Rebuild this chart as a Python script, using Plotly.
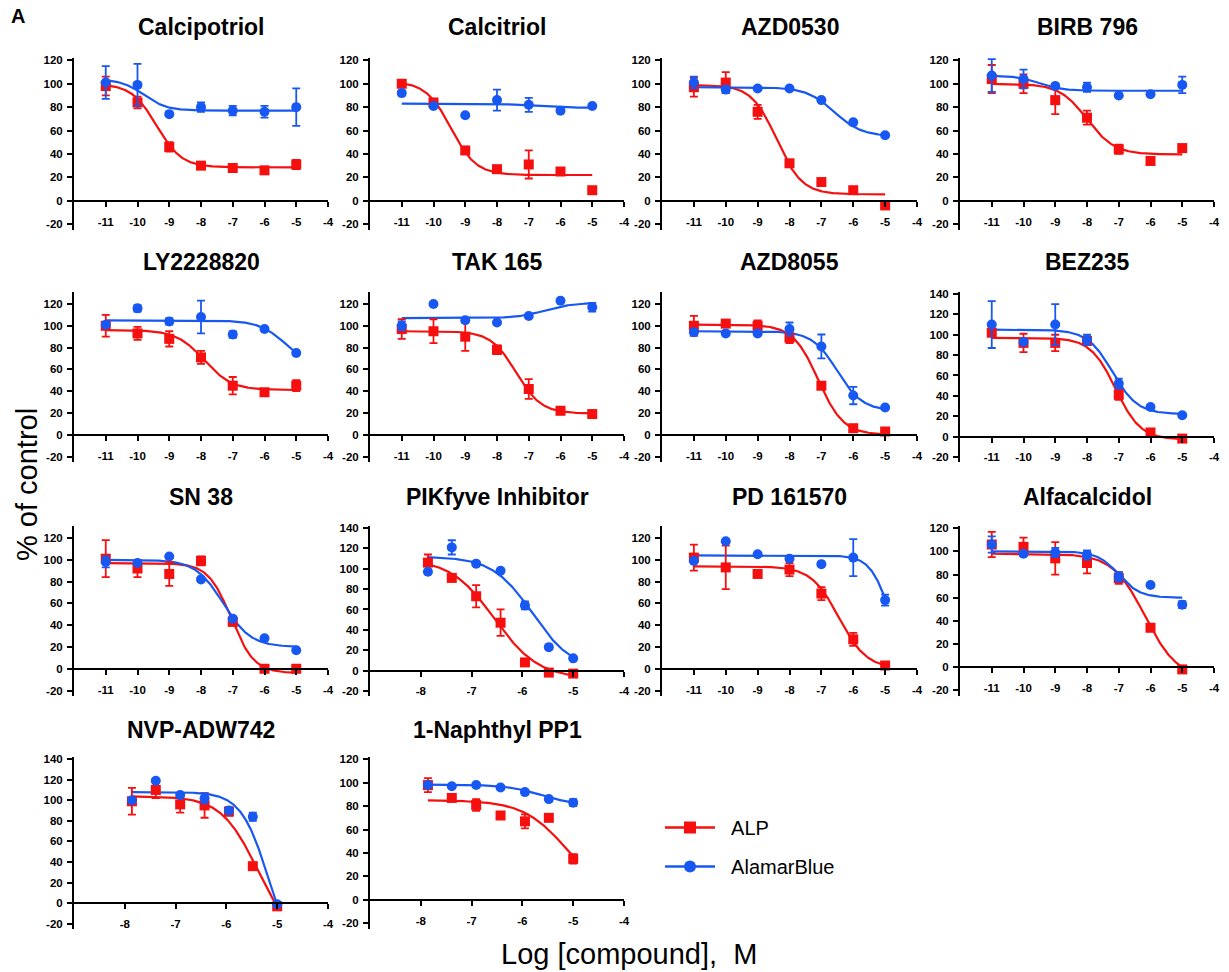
import numpy as np
import plotly.graph_objects as go

# ---------------- data ----------------
titles = ["Calcipotriol", "Calcitriol", "AZD0530", "BIRB 796",
          "LY2228820", "TAK 165", "AZD8055", "BEZ235",
          "SN 38", "PIKfyve Inhibitor", "PD 161570", "Alfacalcidol",
          "NVP-ADW742", "1-Naphthyl PP1"]

log_conc_wide = [-11, -10, -9, -8, -7, -6, -5]
log_conc_narrow = [-7.86, -7.39, -6.91, -6.43, -5.95, -5.48, -5.0]
narrow_panels = ["PIKfyve Inhibitor", "NVP-ADW742", "1-Naphthyl PP1"]

# ALP (% of control) and error
alp_mean = [
    [98, 84, 46, 30, 28, 26, 31],      # Calcipotriol
    [100, 84, 43, 27, 31, 25, 9],      # Calcitriol
    [97, 101, 76, 32, 16, 9, -4],      # AZD0530
    [104, 100, 86, 71, 44, 34, 45],    # BIRB 796
    [100, 93, 88, 71, 45, 39, 45],     # LY2228820
    [97, 95, 90, 78, 42, 22, 19],      # TAK 165
    [100, 102, 100, 89, 45, 6, 3],     # AZD8055
    [102, 92, 92, 94, 41, 4, -2],      # BEZ235
    [101, 92, 87, 99, 43, 0, 0],       # SN 38
    [106, 91, 73, 47, 8, -2, -3],      # PIKfyve Inhibitor
    [102, 93, 87, 91, 69, 27, 3],      # PD 161570
    [106, 104, 94, 90, 77, 34, -2],    # Alfacalcidol
    [99, 110, 96, 95, 89, 36, -3],     # NVP-ADW742
    [98, 87, 81, 72, 67, 70, 35],      # 1-Naphthyl PP1
]
alp_err = [
    [8, 5, 4, 2, 1, 2, 4],
    [1, 1, 2, 2, 12, 1, 0],
    [8, 9, 6, 2, 0, 0, 0],
    [12, 8, 12, 6, 4, 0, 3],
    [10, 6, 7, 6, 8, 3, 5],
    [9, 11, 13, 4, 9, 0, 0],
    [9, 3, 5, 5, 3, 0, 0],
    [3, 9, 8, 4, 5, 0, 0],
    [17, 8, 11, 4, 0, 0, 0],
    [8, 2, 11, 13, 0, 0, 0],
    [12, 20, 3, 6, 6, 6, 0],
    [11, 8, 14, 9, 5, 0, 0],
    [13, 8, 8, 12, 4, 0, 0],
    [6, 0, 5, 0, 6, 0, 4],
]

# AlamarBlue (% of control) and error
ab_mean = [
    [101, 99, 74, 80, 77, 76, 80],
    [92, 81, 73, 86, 82, 77, 81],
    [101, 95, 96, 96, 86, 67, 56],
    [107, 104, 98, 97, 90, 91, 99],
    [101, 116, 104, 108, 92, 97, 75],
    [100, 120, 105, 103, 109, 123, 117],
    [94, 93, 93, 97, 81, 36, 25],
    [110, 93, 110, 95, 52, 29, 21],
    [98, 97, 103, 82, 46, 28, 17],
    [97, 121, 105, 98, 64, 23, 12],
    [99, 117, 105, 101, 96, 102, 63],
    [106, 98, 99, 97, 78, 71, 54],
    [100, 119, 105, 102, 90, 84, -1],
    [98, 97, 98, 96, 92, 86, 83],
]
ab_err = [
    [14, 18, 0, 4, 4, 5, 16],
    [2, 0, 0, 9, 6, 0, 0],
    [5, 3, 0, 0, 0, 0, 0],
    [14, 8, 2, 4, 0, 0, 7],
    [0, 3, 3, 15, 3, 0, 0],
    [4, 0, 0, 0, 0, 0, 4],
    [3, 0, 0, 6, 11, 8, 0],
    [23, 0, 20, 5, 5, 0, 0],
    [5, 0, 0, 0, 0, 0, 0],
    [0, 7, 0, 0, 4, 0, 0],
    [0, 0, 0, 0, 0, 17, 5],
    [7, 0, 4, 4, 4, 0, 3],
    [0, 0, 0, 5, 3, 4, 0],
    [2, 0, 0, 0, 0, 0, 3],
]

# fitted dose-response parameters: (left plateau, right plateau, logEC50, Hill slope)
alp_fit = [
    (100, 28.5, -9.4, 1.1), (102, 22, -9.45, 1.1), (99, 5.5, -8.4, 1.1), (100, 39.5, -8.0, 1.0),
    (96, 41, -7.9, 1.0), (95, 19.5, -7.4, 1.1), (101, 0, -7.1, 1.1), (97, -3, -7.1, 1.1),
    (97, -4, -7.05, 1.2), (110, -8, -6.55, 1.0), (94, 0, -6.45, 1.0), (98, -10, -6.17, 0.85),
    (104, -40, -5.38, 1.2), (85, 0, -5.11, 1.0),
]
ab_fit = [
    (104, 77, -9.8, 1.2), (83, 79.5, -7.0, 1.0), (97, 55, -6.6, 1.0), (107, 94, -9.5, 1.2),
    (105, 60, -5.3, 1.0), (107, 121, -6.5, 1.0), (95, 22, -6.5, 1.1), (105, 22, -7.2, 1.1),
    (100, 20, -7.3, 1.0), (112, 0, -5.8, 1.1), (104, 0, -4.85, 1.4), (100, 60, -7.0, 1.3),
    (108, -60, -5.17, 1.6), (98.5, 80, -5.6, 1.2),
]

y_top = [122, 122, 122, 122, 131, 131, 131, 142, 131, 142, 131, 122, 142, 122]
y_bottom = -25

# ---------------- layout geometry (pixels) ----------------
W, H = 1229, 972
col_px = [(74, 328), (370, 624), (662, 917), (960, 1214)]
row_px = [(58, 230), (292, 462), (526, 696), (757, 929)]
title_y_px = [27, 262, 497, 730]

RED = "#F50F0F"
BLUE = "#1858F2"
FONT = "Liberation Sans, Arial, sans-serif"

fig = go.Figure()
layout = {}
annotations = []

for i, name in enumerate(titles):
    r, c = divmod(i, 4)
    n = i + 1
    xs_name = "x" if n == 1 else f"x{n}"
    ys_name = "y" if n == 1 else f"y{n}"
    narrow = name in narrow_panels
    xs = log_conc_narrow if narrow else log_conc_wide

    for fit, colr in ((alp_fit[i], RED), (ab_fit[i], BLUE)):
        left, right, c50, h = fit
        xx = np.linspace(xs[0], xs[-1], 300)
        yy = right + (left - right) / (1 + 10 ** (h * (xx - c50)))
        fig.add_trace(go.Scatter(x=xx, y=yy, mode="lines", line=dict(color=colr, width=2.2),
                                 xaxis=xs_name, yaxis=ys_name, showlegend=False, hoverinfo="skip"))

    fig.add_trace(go.Scatter(x=xs, y=alp_mean[i], mode="markers",
                             marker=dict(symbol="square", size=10, color=RED),
                             error_y=dict(type="data", array=alp_err[i], color=RED, thickness=1.8, width=4),
                             xaxis=xs_name, yaxis=ys_name, showlegend=False))
    fig.add_trace(go.Scatter(x=xs, y=ab_mean[i], mode="markers",
                             marker=dict(symbol="circle", size=10, color=BLUE),
                             error_y=dict(type="data", array=ab_err[i], color=BLUE, thickness=1.8, width=4),
                             xaxis=xs_name, yaxis=ys_name, showlegend=False))

    x0p, x1p = col_px[c]
    y0p, y1p = row_px[r]
    xdom = [x0p / W, x1p / W]
    ydom = [1 - y1p / H, 1 - y0p / H]
    ytop = y_top[i]
    zero_pos = ydom[0] + (0 - y_bottom) / (ytop - y_bottom) * (ydom[1] - ydom[0])

    xr = [-9, -4] if narrow else [-12, -4]
    xt = list(range(-8, -3)) if narrow else list(range(-11, -3))
    yt = list(range(-20, 141 if ytop >= 140 else 121, 20))

    tickfont = dict(family=FONT, size=11.5, color="black", weight="bold")
    layout["xaxis" if n == 1 else f"xaxis{n}"] = dict(
        domain=xdom, range=xr, tickvals=xt, ticktext=[str(v) for v in xt],
        anchor="free", position=zero_pos, showline=True, linecolor="black", linewidth=2,
        ticks="outside", ticklen=5, tickwidth=2, tickcolor="black", tickfont=tickfont,
        showgrid=False, zeroline=False, ticklabelstandoff=5)
    layout["yaxis" if n == 1 else f"yaxis{n}"] = dict(
        domain=ydom, range=[y_bottom, ytop], tickvals=yt, ticktext=[str(v) for v in yt],
        anchor=xs_name, showline=True, linecolor="black", linewidth=2,
        ticks="outside", ticklen=5, tickwidth=2, tickcolor="black", tickfont=tickfont,
        showgrid=False, zeroline=False, ticklabelstandoff=2)

    annotations.append(dict(text=f"<b>{name}</b>", x=(x0p + x1p) / 2 / W, y=1 - title_y_px[r] / H,
                            xref="paper", yref="paper", showarrow=False, xanchor="center", yanchor="middle",
                            font=dict(family=FONT, size=23, color="black")))

annotations.append(dict(text="<b>A</b>", x=9 / W, y=1 - 16 / H, xref="paper", yref="paper",
                        showarrow=False, xanchor="left", yanchor="middle",
                        font=dict(family=FONT, size=20, color="black")))
annotations.append(dict(text="% of control", x=27 / W, y=1 - 485 / H, xref="paper", yref="paper",
                        showarrow=False, textangle=-90, xanchor="center", yanchor="middle",
                        font=dict(family=FONT, size=29, color="black")))
annotations.append(dict(text="Log [compound],\u00a0 M", x=629 / W, y=1 - 954 / H, xref="paper", yref="paper",
                        showarrow=False, xanchor="center", yanchor="middle",
                        font=dict(family=FONT, size=29, color="black")))

# legend entries
fig.add_trace(go.Scatter(x=[None], y=[None], mode="lines+markers", name="\u00a0\u00a0ALP", legendgroup="alp",
                         line=dict(color=RED, width=2.5), marker=dict(symbol="square", size=12, color=RED)))
fig.add_trace(go.Scatter(x=[None], y=[None], mode="lines+markers", name="\u00a0\u00a0AlamarBlue", legendgroup="ab",
                         line=dict(color=BLUE, width=2.5), marker=dict(symbol="circle", size=12, color=BLUE)))

fig.update_layout(
    width=W, height=H, template="none", paper_bgcolor="white", plot_bgcolor="white",
    margin=dict(l=0, r=0, t=0, b=0), annotations=annotations,
    legend=dict(x=660 / W, y=1 - 808 / H, xanchor="left", yanchor="top", font=dict(family=FONT, size=20, color="black"),
                itemwidth=50, tracegroupgap=10, bgcolor="rgba(0,0,0,0)"),
    showlegend=True,
    **layout,
)

fig.write_html("out.html", config={"displayModeBar": False},
               post_script="document.body.style.margin='0px';")
